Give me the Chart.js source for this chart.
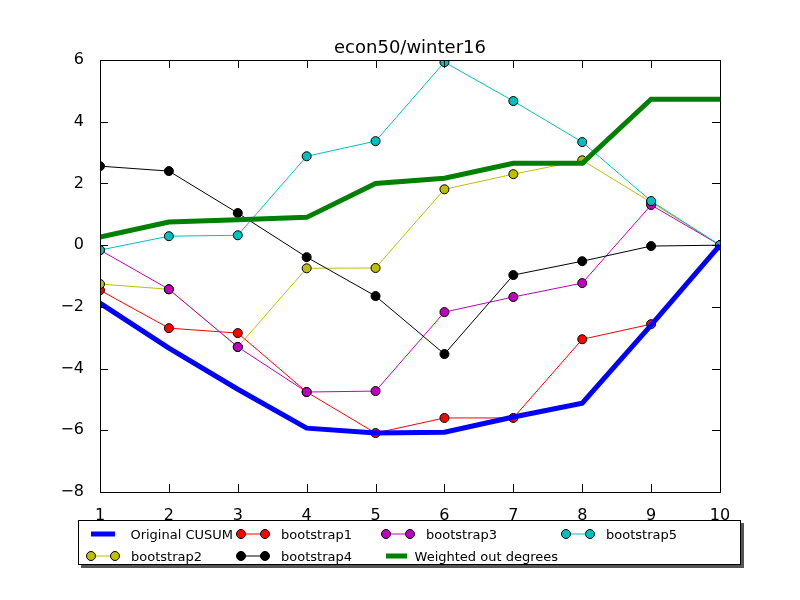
<!DOCTYPE html>
<html><head><meta charset="utf-8">
<script src="https://cdn.jsdelivr.net/npm/chart.js@4"></script>
<style>
body{margin:0;background:#bfbfbf;font-family:"DejaVu Sans",sans-serif}
#wrap{position:relative;width:800px;height:600px;background:#fff}
#leg{position:absolute;left:78px;top:520px;width:663px;height:45px;border:1px solid #000;background:#fff;box-shadow:3px 3px 0 #555;font-size:13px;display:grid;grid-template-columns:150px 145px 180px 180px;grid-template-rows:22px 22px;padding:2px 0 0 4px;box-sizing:border-box}
.it{display:flex;align-items:center;white-space:nowrap}
.it svg{margin-right:8px}
</style></head><body>
<div id="wrap"><canvas id="c" width="800" height="600"></canvas><div id="leg"></div></div>
<script>
const categories=[1,2,3,4,5,6,7,8,9,10];
const bootstrap1=[-1.46,-2.69,-2.85,-4.76,-6.09,-5.6,-5.6,-3.05,-2.56,0];
const bootstrap2=[-1.26,-1.43,-3.3,-0.75,-0.74,1.81,2.3,2.75,1.39,0];
const bootstrap3=[-0.16,-1.43,-3.3,-4.76,-4.73,-2.17,-1.68,-1.23,1.3,0];
const bootstrap4=[2.56,2.4,1.04,-0.39,-1.65,-3.53,-0.97,-0.52,-0.03,0];
const bootstrap5=[-0.16,0.29,0.32,2.88,3.37,5.93,4.67,3.34,1.43,0];
const weighted=[0.26,0.75,0.82,0.9,2.0,2.17,2.65,2.65,4.73,4.73];
const cusum=[-1.88,-3.34,-4.67,-5.93,-6.09,-6.06,-5.57,-5.12,-2.59,0];
const pts=a=>a.map((y,i)=>({x:categories[i],y}));
const mk=(label,data,c,order)=>({label,data:pts(data),borderColor:c,backgroundColor:c,borderWidth:1,pointRadius:4.5,pointBorderColor:'#000',pointBorderWidth:1,order});
const ds=[mk('bootstrap1',bootstrap1,'#ff0000',6),mk('bootstrap2',bootstrap2,'#bfbf00',5),mk('bootstrap3',bootstrap3,'#bf00bf',4),mk('bootstrap4',bootstrap4,'#000000',3),mk('bootstrap5',bootstrap5,'#00bfbf',2),
{label:'Weighted out degrees',data:pts(weighted),borderColor:'#008000',borderWidth:5,pointRadius:0,order:1},
{label:'Original CUSUM',data:pts(cusum),borderColor:'#0000ff',borderWidth:5,pointRadius:0,order:0}];
const frame={id:'frame',afterDraw(ch){const a=ch.chartArea,x=ch.ctx;x.save();x.strokeStyle='#000';x.lineWidth=1;x.strokeRect(a.left+.5,a.top+.5,a.right-a.left,a.bottom-a.top);
const sx=ch.scales.x,sy=ch.scales.y;x.beginPath();
categories.forEach(v=>{const p=Math.round(sx.getPixelForValue(v))+.5;x.moveTo(p,a.bottom);x.lineTo(p,a.bottom-8);x.moveTo(p,a.top);x.lineTo(p,a.top+8);});
for(let v=-8;v<=6;v+=2){const p=Math.round(sy.getPixelForValue(v))+.5;x.moveTo(a.left,p);x.lineTo(a.left+8,p);x.moveTo(a.right,p);x.lineTo(a.right-8,p);}
x.stroke();x.fillStyle='#000';x.font='18px "DejaVu Sans"';x.textAlign='center';x.textBaseline='alphabetic';x.fillText('econ50/winter16',(a.left+a.right)/2,53);x.restore();}};
new Chart(document.getElementById('c'),{type:'line',data:{datasets:ds},plugins:[frame],
options:{responsive:false,animation:false,layout:{padding:{top:60,right:80,bottom:78,left:0}},
plugins:{legend:{display:false},title:{display:false},tooltip:{enabled:false}},
scales:{x:{type:'linear',min:1,max:10,grid:{display:false},border:{display:false},ticks:{stepSize:1,color:'#000',font:{size:16,family:'DejaVu Sans'},padding:6},afterFit(s){s.height=30;}},
y:{min:-8,max:6,grid:{display:false},border:{display:false},ticks:{stepSize:2,color:'#000',font:{size:16,family:'DejaVu Sans'},padding:8,callback:v=>String(v).replace('-','\u2212')},afterFit(s){s.width=100;}}}}});
const order=[0,2,4,6,1,3,5];
const leg=document.getElementById('leg');
order.forEach(i=>{const d=ds[i];const c=d.borderColor;const m=d.pointRadius?`<circle cx="8" cy="6" r="4.5" fill="${c}" stroke="#000"/><circle cx="32" cy="6" r="4.5" fill="${c}" stroke="#000"/>`:'';
leg.insertAdjacentHTML('beforeend',`<div class="it"><svg width="40" height="12"><line x1="8" y1="6" x2="32" y2="6" stroke="${c}" stroke-width="${d.borderWidth}"/>${m}</svg>${d.label}</div>`);});
leg.children[3].style.gridRow='1';
</script></body></html>
